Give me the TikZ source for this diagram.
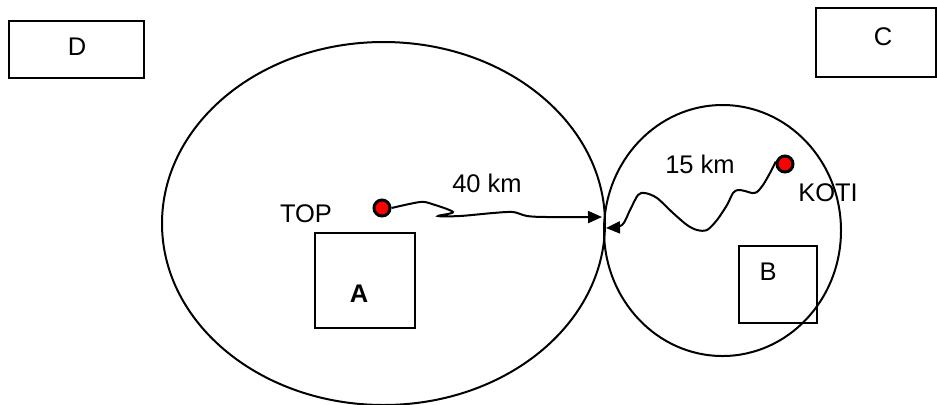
\documentclass[tikz,border=0pt]{standalone}
\usepackage{fontspec}
\setmainfont{Liberation Sans}
\usetikzlibrary{arrows.meta}
\begin{document}
\begin{tikzpicture}[x=0.5pt, y=-0.5pt, line width=1pt,
                    arrow/.style = {line width=1pt,-{Triangle[length=7pt,width=6pt]}},
                    box/.style = {draw, inner sep=0pt, outer sep=0pt},
                    place/.style = {circle, draw, fill=red, line width=1.5pt, minimum size=8pt, inner sep=0pt},
                    every node/.append style = {font=\fontsize{12.75}{15}\selectfont}]
                    \useasboundingbox (0,0) rectangle (937,404);

                    \draw (383.5,223.5) ellipse [x radius=110.75pt, y radius=90.75pt];
                    \draw (722.5,230.5) ellipse [x radius=59.25pt, y radius=62.75pt];

                    \node [box, minimum width=67.5pt, minimum height=28.5pt] (boxD) at (76.5,49.5) {};
                    \node [box, minimum width=60pt, minimum height=34.5pt] (boxC) at (876,42.5) {};
                    \node [box, minimum width=50pt, minimum height=47.5pt] (boxA) at (365,280.5) {};
                    \node [box, minimum width=39pt, minimum height=38.5pt] (boxB) at (778,284.5) {};

                    \node (lblD) at (77,47) {D};
                    \node (lblC) at (883,37) {C};
                    \node (lblA) at (359,294) {\bfseries A};
                    \node (lblB) at (768,272) {B};

                    \node [place] (top) at (382,208) {};
                    \node [place] (koti) at (785,164) {};
                    \node (lblTOP) at (306,214) {TOP};
                    \node (lblKOTI) at (828,193) {KOTI};
                    \node (dist40) at (487,183) {40 km};
                    \node (dist15) at (700,164) {15 km};

                    \coordinate (tipA) at (602,217);
                    \coordinate (tipB) at (606,228);

                    \draw[arrow] plot[smooth, tension=0.5] coordinates {(top.east) (420,202) (432,204) (453,212) (438,216) (460,216) (493,213) (513,212) (527,216) (547,217) (tipA)};
                    \draw[arrow] plot[smooth, tension=0.5] coordinates {(koti.165) (770,173) (763,185) (757,192) (752,193) (745,191) (738,190) (733,193) (727,205) (717,220) (707,230) (697,230) (687,225) (673,213) (657,198) (645,193) (638,195) (630,210) (622,225) (tipB)};
\end{tikzpicture}
\end{document}
